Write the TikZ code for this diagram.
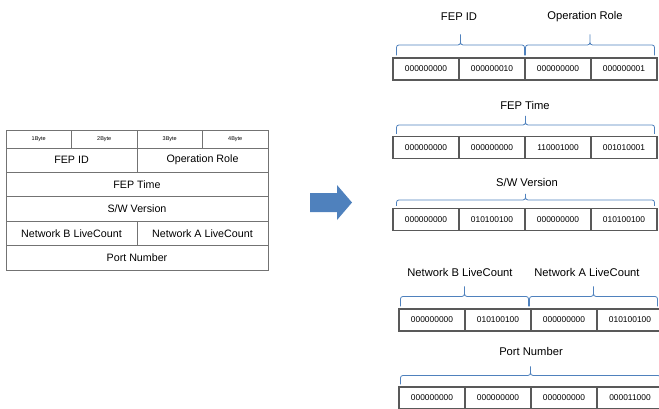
\documentclass[tikz,border=0pt]{standalone}
\usepackage{fontspec}
\setmainfont{Liberation Sans}
\usepackage{xcolor}
\usetikzlibrary{calc}
\definecolor{offblue}{RGB}{79,129,189}
\tikzset{
  hcell/.style={draw=black!55, line width=0.7pt, minimum width=65.5pt, minimum height=18pt, inner sep=0pt, font=\fontsize{5.5}{6}\selectfont},
  lcell/.style={draw=black!55, line width=0.7pt, minimum height=24.4pt, inner sep=0pt, font=\fontsize{10.7}{12}\selectfont},
  lhalf/.style={lcell, minimum width=131pt},
  lfull/.style={lcell, minimum width=262pt},
  bcell/.style={draw=black!65, line width=1.1pt, fill=white, minimum width=66pt, minimum height=22pt, inner sep=0pt, font=\fontsize{8.4}{10}\selectfont},
  blabel/.style={font=\fontsize{11.2}{13}\selectfont, inner sep=1pt},
  bbrk/.style={draw=offblue, line width=0.8pt, rounded corners=2.5pt,
    to path={-- ++(0,#1) -| ($(\tikztostart)!0.5!(\tikztotarget)+(0,2*#1)$)
      (\tikztotarget) -- ++(0,#1) -| ($(\tikztostart)!0.5!(\tikztotarget)+(0,2*#1)$)}},
  barrow/.style={fill=offblue, draw=none}
}

\begin{document}
\begin{tikzpicture}[x=1pt,y=1pt]
\useasboundingbox (0,0) rectangle (659,-408);
\clip (0,0) rectangle (659,-408);

% left: frame layout
\node[hcell] (h1) at (38.75,-139) {1Byte};
\node[hcell] (h2) at (104.25,-139) {2Byte};
\node[hcell] (h3) at (169.75,-139) {3Byte};
\node[hcell] (h4) at (235.25,-139) {4Byte};
\node[lhalf] (fid) at (71.5,-160.2) {FEP ID};
\node[lhalf] (orole) at (202.5,-160.2) {Operation Role};
\node[lfull] (ftime) at (137,-184.6) {FEP Time};
\node[lfull] (swver) at (137,-209) {S/W Version};
\node[lhalf] (netb) at (71.5,-233.4) {Network B LiveCount};
\node[lhalf] (neta) at (202.5,-233.4) {Network A LiveCount};
\node[lfull] (port) at (137,-257.8) {Port Number};

% arrow
\fill[barrow] (310,-193) -- (337,-193) -- (337,-185) -- (352,-202.5) -- (337,-220) -- (337,-212) -- (310,-212) -- cycle;

% right: FEP ID / Operation Role
\node[bcell] (r1a) at (426,-69) {000000000};
\node[bcell] (r1b) at (492,-69) {000000010};
\node[bcell] (r1c) at (558,-69) {000000000};
\node[bcell] (r1d) at (624,-69) {000000001};
\draw[bbrk=10.5] ([xshift=4pt,yshift=2pt]r1a.north west) to ([xshift=-1pt,yshift=2pt]r1b.north east);
\draw[bbrk=10.5] ([xshift=1pt,yshift=2pt]r1c.north west) to ([xshift=-3pt,yshift=2pt]r1d.north east);
\node[blabel] (t1a) at (459,-17) {FEP ID};
\node[blabel] (t1b) at (585,-17) {Operation Role};

% right: FEP Time
\node[bcell] (r2a) at (426,-147.5) {000000000};
\node[bcell] (r2b) at (492,-147.5) {000000000};
\node[bcell] (r2c) at (558,-147.5) {110001000};
\node[bcell] (r2d) at (624,-147.5) {001010001};
\draw[bbrk=9] ([xshift=4pt,yshift=2pt]r2a.north west) to ([xshift=-3pt,yshift=2pt]r2d.north east);
\node[blabel] (t2) at (525,-105) {FEP Time};

% right: S/W Version
\node[bcell] (r3a) at (426,-219.5) {000000000};
\node[bcell] (r3b) at (492,-219.5) {010100100};
\node[bcell] (r3c) at (558,-219.5) {000000000};
\node[bcell] (r3d) at (624,-219.5) {010100100};
\draw[bbrk=6] ([xshift=4pt,yshift=2pt]r3a.north west) to ([xshift=-3pt,yshift=2pt]r3d.north east);
\node[blabel] (t3) at (527,-182) {S/W Version};

% right: Network B / Network A LiveCount
\node[bcell] (r4a) at (432,-320) {000000000};
\node[bcell] (r4b) at (498,-320) {010100100};
\node[bcell] (r4c) at (564,-320) {000000000};
\node[bcell] (r4d) at (630,-320) {010100100};
\draw[bbrk=10] ([xshift=2pt,yshift=2pt]r4a.north west) to ([xshift=-3pt,yshift=2pt]r4b.north east);
\draw[bbrk=10] ([xshift=-1pt,yshift=2pt]r4c.north west) to ([xshift=-6pt,yshift=2pt]r4d.north east);
\node[blabel] (t4a) at (460,-272) {Network B LiveCount};
\node[blabel] (t4b) at (587,-272) {Network A LiveCount};

% right: Port Number
\node[bcell] (r5a) at (432,-398) {000000000};
\node[bcell] (r5b) at (498,-398) {000000000};
\node[bcell] (r5c) at (564,-398) {000000000};
\node[bcell] (r5d) at (630,-398) {000011000};
\draw[bbrk=9] ([xshift=2pt,yshift=2pt]r5a.north west) to ([xshift=-3pt,yshift=2pt]r5d.north east);
\node[blabel] (t5) at (531,-351) {Port Number};
\end{tikzpicture}
\end{document}
